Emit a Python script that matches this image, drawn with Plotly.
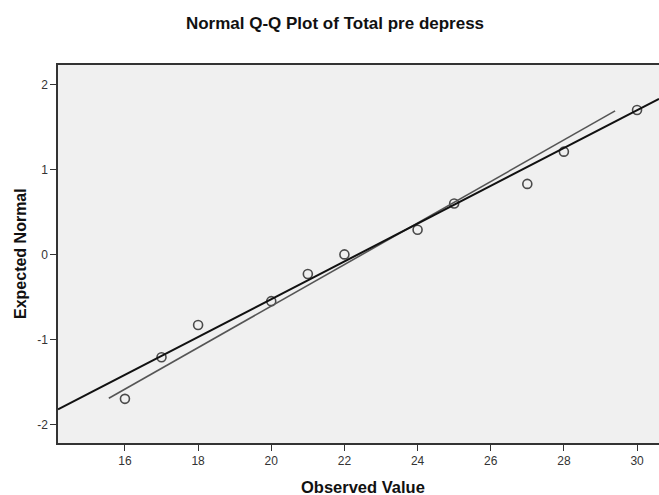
import plotly.graph_objects as go

# Data
observed = [16, 17, 18, 20, 21, 22, 24, 25, 27, 28, 30]
expected = [-1.70, -1.21, -0.83, -0.55, -0.23, 0.0, 0.29, 0.60, 0.83, 1.21, 1.70]

ref_line_x = [14.17, 30.6]
ref_line_y = [-1.824, 1.83]

fit_line_x = [15.56, 29.4]
fit_line_y = [-1.694, 1.69]

x_ticks = [16, 18, 20, 22, 24, 26, 28, 30]
y_ticks = [-2, -1, 0, 1, 2]

font_family = "Liberation Sans, Arial, sans-serif"

fig = go.Figure()

fig.add_trace(go.Scatter(
    x=observed, y=expected, mode="markers",
    marker=dict(symbol="circle-open", size=9, color="#4a4a4a",
                line=dict(width=1.6, color="#4a4a4a")),
    showlegend=False, hoverinfo="x+y"))

fig.add_trace(go.Scatter(
    x=fit_line_x, y=fit_line_y, mode="lines",
    line=dict(color="#555555", width=1.6),
    showlegend=False, hoverinfo="skip"))

fig.add_trace(go.Scatter(
    x=ref_line_x, y=ref_line_y, mode="lines",
    line=dict(color="#111111", width=2),
    showlegend=False, hoverinfo="skip"))

fig.update_layout(
    width=659, height=495, autosize=False,
    margin=dict(l=58, r=0, t=65, b=52),
    paper_bgcolor="white",
    plot_bgcolor="#f0f0f0",
    font=dict(family=font_family, color="#222222"),
    title=dict(text="<b>Normal Q-Q Plot of Total pre depress</b>",
               x=335 / 659, xanchor="center", y=1 - 23 / 495, yanchor="middle",
               font=dict(size=17, color="#111111")),
    xaxis=dict(
        range=[14.17, 30.6], tickvals=x_ticks, ticktext=[str(v) for v in x_ticks],
        showgrid=False, zeroline=False,
        showline=True, linecolor="#333333", linewidth=1.5, mirror=True,
        ticks="outside", ticklen=6, tickcolor="#333333", tickwidth=1.2,
        tickfont=dict(size=12, color="#333333"),
    ),
    yaxis=dict(
        range=[-2.22, 2.23], tickvals=y_ticks, ticktext=[str(v) for v in y_ticks],
        showgrid=False, zeroline=False,
        showline=True, linecolor="#333333", linewidth=1.5, mirror=False,
        ticks="outside", ticklen=6, tickcolor="#333333", tickwidth=1.2,
        tickfont=dict(size=12, color="#333333"),
    ),
    annotations=[
        dict(text="<b>Observed Value</b>", xref="paper", yref="paper",
             x=(363 - 58) / 601, y=-(486.7 - 443) / 378,
             xanchor="center", yanchor="middle", showarrow=False,
             font=dict(size=16.5, color="#111111")),
        dict(text="<b>Expected Normal</b>", xref="paper", yref="paper",
             x=(20 - 58) / 601, y=0.5, textangle=-90,
             xanchor="center", yanchor="middle", showarrow=False,
             font=dict(size=16, color="#111111")),
    ],
)

fig.write_html("out.html")
